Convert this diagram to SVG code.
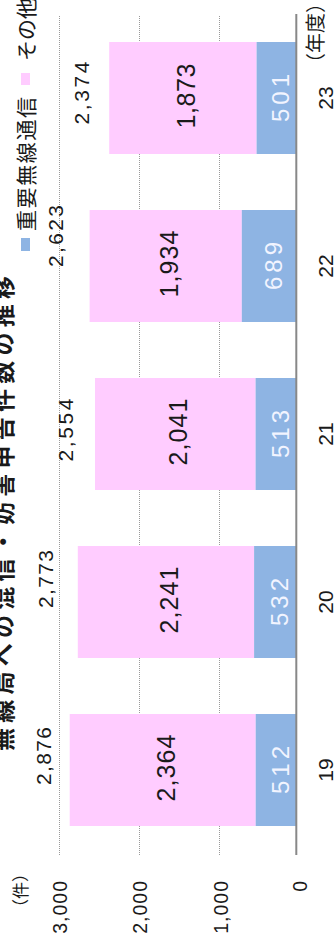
<svg xmlns="http://www.w3.org/2000/svg" width="334" height="933" viewBox="0 0 334 933">
<style>
.num{font-family:"Liberation Sans",Arial,sans-serif;fill:#1a1a1a}
.jp{font-family:"Noto Sans CJK JP","Noto Sans",sans-serif;fill:#1a1a1a}
.grid{stroke:#999;stroke-width:1;stroke-dasharray:1 1;fill:none}
.axis{stroke:#888;stroke-width:2;fill:none}
.pink{fill:#FFCCFF}
.blue{fill:#8EB4E3}
.tot{font-size:21px;text-anchor:middle}
.seg{font-size:25px;text-anchor:middle}
.bl{font-size:24px;text-anchor:middle;fill:#F2F4FF}
.tick{font-size:19.5px;text-anchor:end;letter-spacing:1px}
.cat{font-size:21px;text-anchor:middle}
</style>
<rect width="334" height="933" fill="#ffffff"/>
<g transform="matrix(0,-1,1,0,0,933)">
  <g id="title">
    <text class="jp" x="182" y="11.5" font-size="23" font-weight="bold" textLength="475" lengthAdjust="spacing">無線局への混信・妨害申告件数の推移</text>
  </g>
  <g id="legend">
    <rect class="blue" x="682" y="21" width="13" height="9"/>
    <text class="jp" x="702" y="34.3" font-size="21" textLength="134" lengthAdjust="spacing">重要無線通信</text>
    <rect class="pink" x="848" y="21" width="12" height="9"/>
    <text class="jp" x="872" y="34.3" font-size="21">その他</text>
  </g>
  <g id="units">
    <text class="jp" x="17" y="27" font-size="17">（件）</text>
    <text class="jp" x="860" y="323" font-size="20">（年度）</text>
  </g>
  <g id="gridlines">
    <line class="grid" x1="78" y1="59.5" x2="917" y2="59.5"/>
    <line class="grid" x1="78" y1="139.5" x2="917" y2="139.5"/>
    <line class="grid" x1="78" y1="219.5" x2="917" y2="219.5"/>
  </g>
  <g id="ticks">
    <text class="num tick" x="53" y="67">3,000</text>
    <text class="num tick" x="53" y="147">2,000</text>
    <text class="num tick" x="53" y="227.5">1,000</text>
    <text class="num tick" x="53" y="307">0</text>
  </g>
  <g id="bar-19">
    <rect class="pink" x="107" y="69.7" width="112" height="186"/>
    <rect class="blue" x="107" y="255.7" width="112" height="40.6"/>
    <text class="num tot" x="177" y="50.5" textLength="58" lengthAdjust="spacing">2,876</text>
    <text class="num seg" x="165" y="175" textLength="67" lengthAdjust="spacing">2,364</text>
    <text class="num bl" x="163" y="289" textLength="48" lengthAdjust="spacing">512</text>
    <text class="num cat" x="163" y="333">19</text>
  </g>
  <g id="bar-20">
    <rect class="pink" x="275" y="77.8" width="112" height="176.3"/>
    <rect class="blue" x="275" y="254.1" width="112" height="42.2"/>
    <text class="num tot" x="354" y="52.5" textLength="58" lengthAdjust="spacing">2,773</text>
    <text class="num seg" x="333" y="178" textLength="67" lengthAdjust="spacing">2,241</text>
    <text class="num bl" x="331" y="288" textLength="48" lengthAdjust="spacing">532</text>
    <text class="num cat" x="331" y="333">20</text>
  </g>
  <g id="bar-21">
    <rect class="pink" x="443" y="95" width="112" height="160.6"/>
    <rect class="blue" x="443" y="255.6" width="112" height="40.7"/>
    <text class="num tot" x="503" y="72.5" textLength="63" lengthAdjust="spacing">2,554</text>
    <text class="num seg" x="501" y="187.3" textLength="67" lengthAdjust="spacing">2,041</text>
    <text class="num bl" x="499" y="289" textLength="48" lengthAdjust="spacing">513</text>
    <text class="num cat" x="499" y="333">21</text>
  </g>
  <g id="bar-22">
    <rect class="pink" x="611" y="89.6" width="112" height="152.2"/>
    <rect class="blue" x="611" y="241.8" width="112" height="54.5"/>
    <text class="num tot" x="697" y="62.5" textLength="62" lengthAdjust="spacing">2,623</text>
    <text class="num seg" x="669" y="177.7" textLength="67" lengthAdjust="spacing">1,934</text>
    <text class="num bl" x="667" y="282" textLength="48" lengthAdjust="spacing">689</text>
    <text class="num cat" x="667" y="333">22</text>
  </g>
  <g id="bar-23">
    <rect class="pink" x="779" y="109.2" width="112" height="147.4"/>
    <rect class="blue" x="779" y="256.6" width="112" height="39.7"/>
    <text class="num tot" x="840" y="88.5" textLength="63" lengthAdjust="spacing">2,374</text>
    <text class="num seg" x="837" y="194.9" textLength="65" lengthAdjust="spacing">1,873</text>
    <text class="num bl" x="835" y="289" textLength="48" lengthAdjust="spacing">501</text>
    <text class="num cat" x="835" y="333">23</text>
  </g>
  <g id="connectors">
    <line class="axis" x1="78" y1="296.3" x2="919" y2="296.3"/>
  </g>
</g>
</svg>
